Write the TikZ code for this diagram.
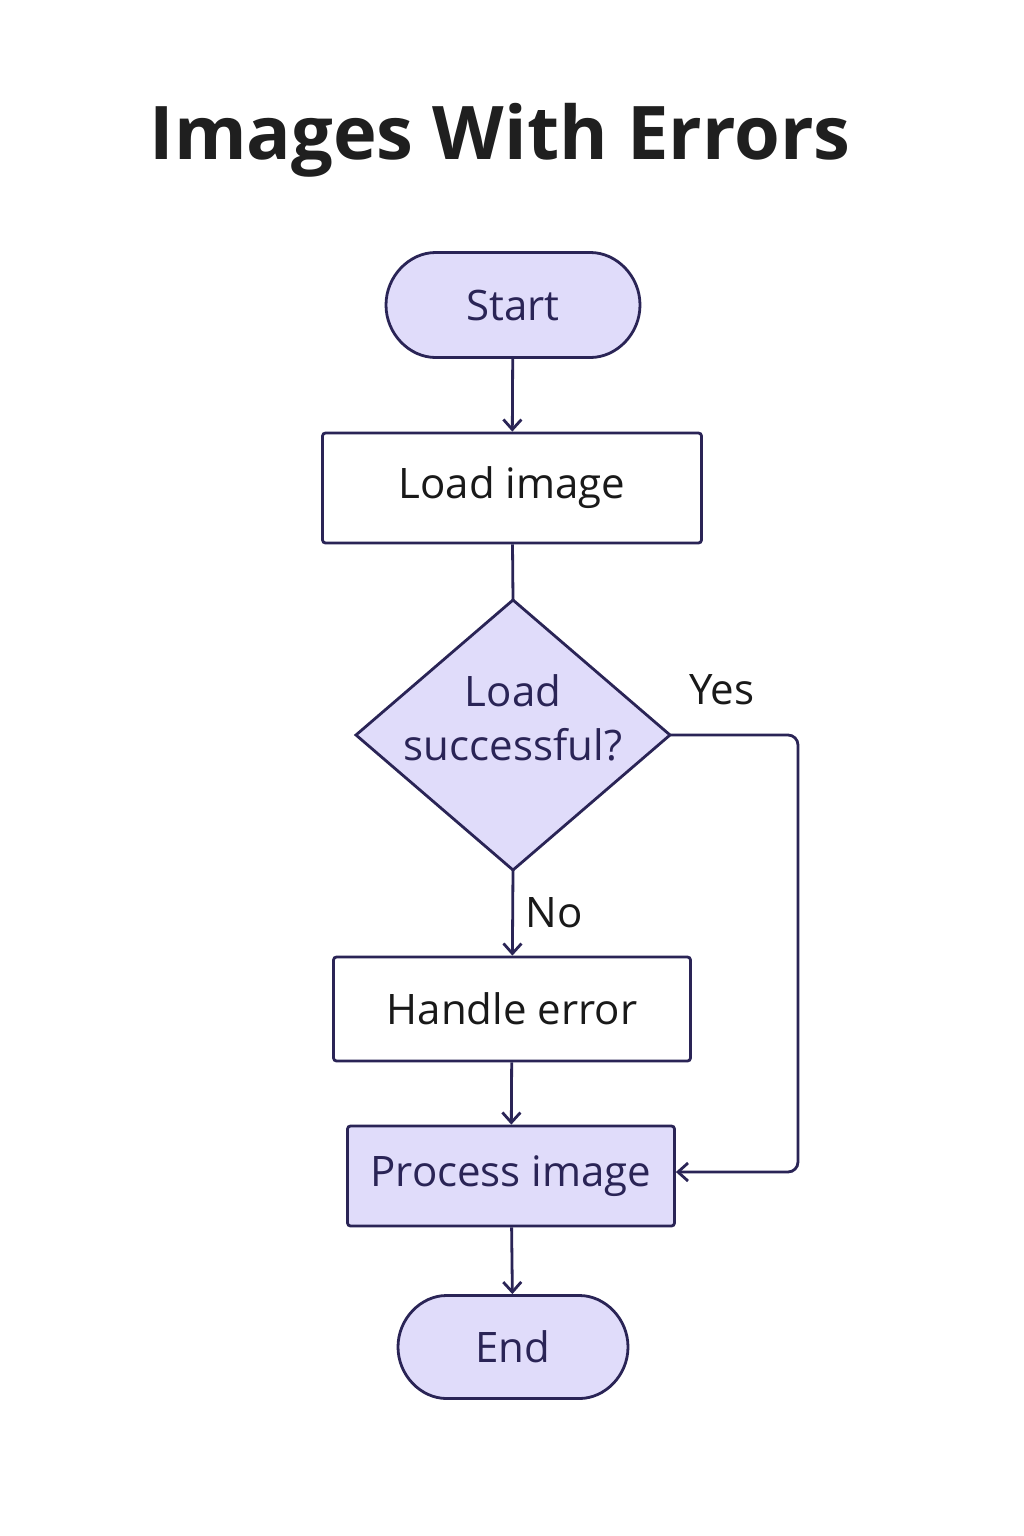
\documentclass[tikz,border=0pt]{standalone}
\usepackage{fontspec}
\setmainfont{Open Sans}
\usetikzlibrary{arrows.meta,shapes.misc}
\definecolor{lav}{HTML}{E0DCFA}
\definecolor{ink}{HTML}{2A2456}
\begin{document}
\begin{tikzpicture}[x=1pt,y=-1pt,
  box/.style={draw=ink,line width=2.8pt,rounded corners=3pt,inner sep=0pt,font=\fontsize{42}{48}\selectfont,text=black!90},
  term/.style={box,rounded rectangle,fill=lav,text=ink},
  arr/.style={draw=ink,line width=2.8pt,-{Straight Barb[length=10pt,width=18pt]}},
  ln/.style={draw=ink,line width=2.8pt}]
\fill[white] (0,0) rectangle (1024,1536);
\useasboundingbox (0,0) rectangle (1024,1536);
\node[font=\fontsize{74}{84}\selectfont\bfseries,text=black!88] (title) at (500,140) {Images With Errors};
\node[term,minimum width=254pt,minimum height=105pt] (start) at (513,305) {Start};
\node[box,minimum width=379pt,minimum height=110pt] (load) at (512,488) {Load image};
\coordinate (dT) at (513,600); \coordinate (dB) at (513,870);
\coordinate (dL) at (356,735); \coordinate (dR) at (670,735);
\draw[ln,fill=lav,line join=miter] (dT)--(dR)--(dB)--(dL)--cycle;
\node[font=\fontsize{42}{54}\selectfont,text=ink,align=center] (dec) at (513,718) {Load\\successful?};
\node[box,minimum width=357pt,minimum height=104pt] (handle) at (512,1009) {Handle error};
\node[box,fill=lav,text=ink,minimum width=327pt,minimum height=100pt] (proc) at (511,1176) {Process image};
\node[term,minimum width=230pt,minimum height=103pt] (end) at (513,1347) {End};
\draw[arr] (start) -- (load);
\draw[ln] (load) -- (dT);
\draw[arr] (dB) -- node[right,font=\fontsize{42}{48}\selectfont,text=black!90,xshift=8pt]{No} (handle);
\draw[arr,rounded corners=10pt] (dR) -- (798,735) -- (798,1172) -- (proc.east|-0,1172);
\node[font=\fontsize{42}{48}\selectfont,text=black!90] (yes) at (722,690) {Yes};
\draw[arr] (handle) -- (proc);
\draw[arr] (proc) -- (end);
\end{tikzpicture}
\end{document}
